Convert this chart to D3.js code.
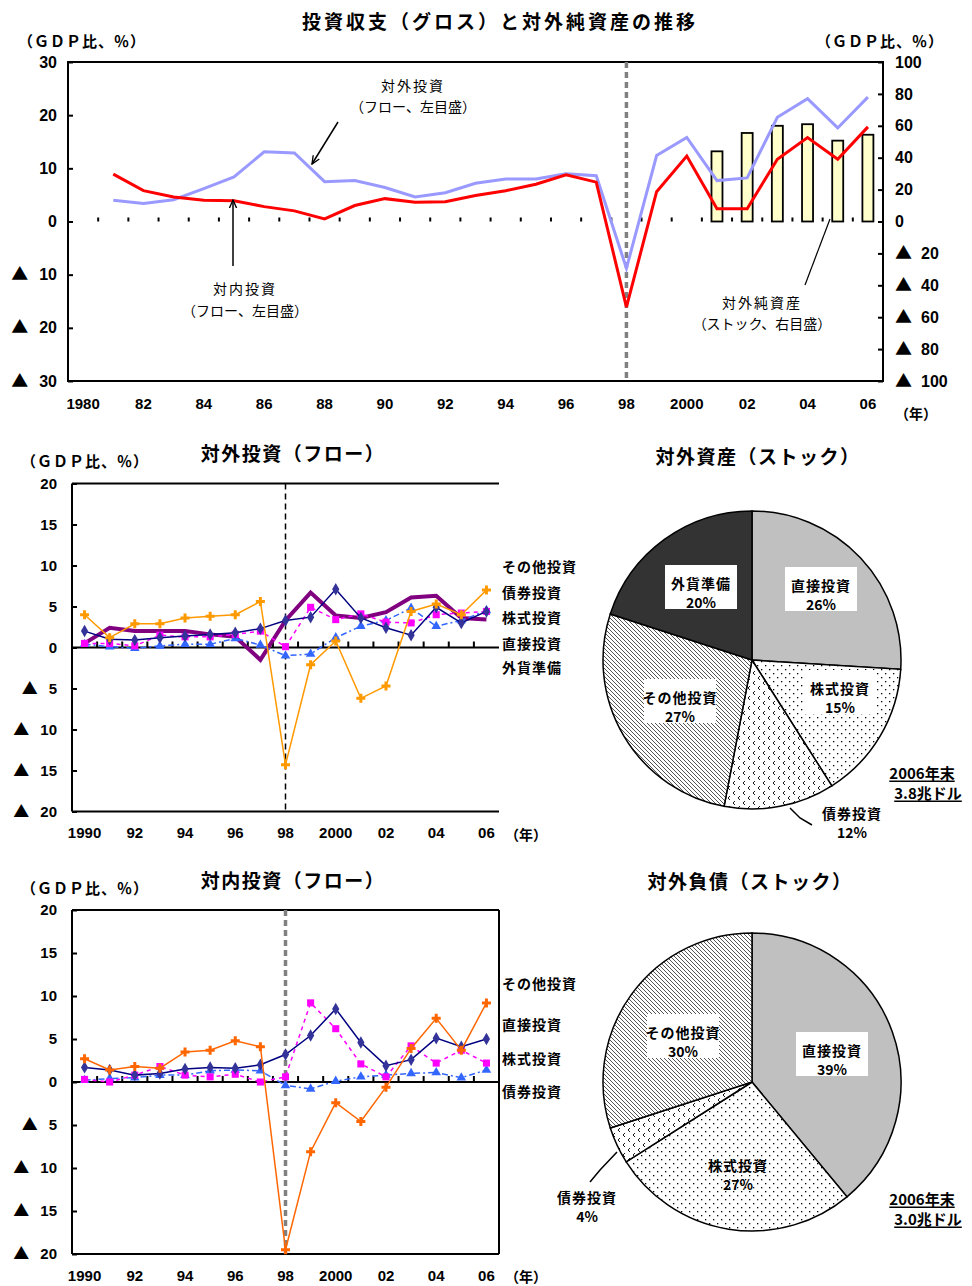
<!DOCTYPE html>
<html>
<head>
<meta charset="utf-8">
<title>投資収支（グロス）と対外純資産の推移</title>
<script src="https://cdn.jsdelivr.net/npm/d3@7"></script>
<style>
  body { margin: 0; background: #fff; }
  svg { display: block; font-family: "Noto Sans CJK JP", sans-serif; }
  .num { font-family: "Liberation Sans", Arial, "Noto Sans CJK JP", sans-serif; font-weight: bold; }
</style>
</head>
<body>
<svg id="chart" width="972" height="1286"></svg>
<script>
// ---------- data ----------
// top chart, GDP ratio (%)
const yearsLong = [1980, 1981, 1982, 1983, 1984, 1985, 1986, 1987, 1988, 1989, 1990, 1991, 1992, 1993,
  1994, 1995, 1996, 1997, 1998, 1999, 2000, 2001, 2002, 2003, 2004, 2005, 2006];
const outwardGross = [null, 4.0, 3.4, 4.1, 6.2, 8.4, 13.1, 12.9, 7.5, 7.7, 6.4, 4.6, 5.4, 7.2,
  8.0, 8.0, 9.0, 8.6, -8.8, 12.4, 15.8, 7.7, 8.2, 19.6, 23.1, 17.6, 23.4];
const inwardGross = [null, 8.9, 5.8, 4.6, 4.0, 3.9, 2.8, 2.0, 0.5, 3.0, 4.3, 3.6, 3.7, 4.9,
  5.8, 7.0, 8.8, 7.4, -16.1, 5.6, 12.3, 2.4, 2.4, 11.7, 15.8, 11.7, 17.8];
const netAssetYears = [2001, 2002, 2003, 2004, 2005, 2006];
const netAssets = [44, 55.5, 60, 61, 50.7, 54.4];

// flow charts 1990-2006
const yearsShort = [1990, 1991, 1992, 1993, 1994, 1995, 1996, 1997, 1998, 1999, 2000, 2001, 2002, 2003, 2004, 2005, 2006];
const outOther = [4.0, 1.2, 2.9, 2.9, 3.6, 3.8, 4.0, 5.6, -14.3, -2.1, 0.8, -6.2, -4.7, 4.4, 5.3, 4.0, 7.0];
const outBond = [0.4, 0.1, -0.1, 0.2, 0.4, 0.4, 1.1, 0.3, -1.0, -0.8, 1.2, 2.6, 3.3, 4.8, 2.6, 3.3, 4.5];
const outEquity = [0.5, 0.5, 0.2, 1.5, 1.3, 1.3, 1.6, 2.0, 0.1, 4.9, 3.4, 4.1, 3.1, 3.0, 4.0, 4.2, 4.4];
const outDirect = [2.0, 1.0, 0.9, 1.2, 1.4, 1.6, 1.8, 2.3, 3.3, 3.7, 7.1, 3.6, 2.4, 1.5, 4.9, 3.0, 4.4];
const outReserves = [0.5, 2.4, 2.0, 2.0, 2.0, 1.6, 1.3, -1.5, 3.3, 6.7, 3.9, 3.6, 4.3, 6.1, 6.3, 3.6, 3.4];

const inOther = [2.7, 1.4, 1.8, 1.6, 3.5, 3.7, 4.8, 4.1, -19.5, -8.1, -2.4, -4.6, -0.6, 3.9, 7.4, 3.7, 9.2];
const inDirect = [1.7, 1.4, 0.8, 1.0, 1.5, 1.7, 1.6, 2.0, 3.2, 5.4, 8.5, 4.6, 1.9, 2.6, 5.1, 4.1, 5.0];
const inEquity = [0.3, 0.0, 0.8, 1.8, 0.8, 0.6, 0.9, 0.0, 0.6, 9.2, 6.2, 2.1, 0.6, 4.2, 2.2, 3.7, 2.2];
const inBond = [0.2, 0.4, 0.5, 0.8, 0.8, 1.3, 1.4, 1.3, -0.4, -0.8, 0.1, 0.6, 0.8, 1.0, 1.1, 0.5, 1.4];

// stock pies (shares, %)
const assetNames = ["直接投資", "株式投資", "債券投資", "その他投資", "外貨準備"];
const assetShares = [26, 15, 12, 27, 20];
const liabNames = ["直接投資", "株式投資", "債券投資", "その他投資"];
const liabShares = [39, 27, 4, 30];

// ---------- helpers ----------
const svg = d3.select("#chart");
const defs = svg.append("defs");

const fmtYearTop = y => (y === 1980 || y === 2000) ? String(y) : String(y).slice(2);
const fmtYear = y => (y === 1990 || y === 2000) ? String(y) : String(y).slice(2);

// style axis numbers; negatives are written as "▲ n"
function styleTicks(size, gap) {
  return a => a.selectAll(".tick text").each(function (d) {
    const t = d3.select(this).attr("class", "num").attr("font-size", size).attr("fill", "#000").text(null);
    if (d < 0) {
      t.append("tspan").attr("font-family", "Noto Sans CJK JP").attr("font-size", size + 1).text("▲");
      t.append("tspan").attr("dx", gap).text(-d);
    } else {
      t.text(d);
    }
  });
}

function jpText(g, x, y, str, size, opts = {}) {
  return g.append("text")
    .attr("x", x).attr("y", y)
    .attr("text-anchor", opts.anchor || "middle")
    .attr("dominant-baseline", "central")
    .attr("font-size", size)
    .attr("font-weight", opts.weight || "bold")
    .attr("letter-spacing", opts.ls || 0)
    .text(str);
}

// arrow head
defs.append("marker").attr("id", "arrow")
  .attr("viewBox", "0 0 10 10").attr("refX", 9).attr("refY", 5)
  .attr("markerWidth", 9).attr("markerHeight", 9).attr("orient", "auto")
  .attr("markerUnits", "userSpaceOnUse")
  .append("path").attr("d", "M0,1 L9,5 L0,9").attr("fill", "none").attr("stroke", "#000").attr("stroke-width", 1.5);

// pie fill patterns
const hatch = defs.append("pattern").attr("id", "hatch").attr("patternUnits", "userSpaceOnUse")
  .attr("width", 4).attr("height", 4);
hatch.append("rect").attr("width", 4).attr("height", 4).attr("fill", "#fff");
hatch.append("path").attr("d", "M-1,-1 L5,5 M3,-1 L5,1 M-1,3 L1,5").attr("stroke", "#555").attr("stroke-width", 1);

const dots = defs.append("pattern").attr("id", "dots").attr("patternUnits", "userSpaceOnUse")
  .attr("width", 8).attr("height", 8);
dots.append("rect").attr("width", 8).attr("height", 8).attr("fill", "#fff");
dots.append("rect").attr("x", 1).attr("y", 1).attr("width", 1.3).attr("height", 1.3).attr("fill", "#000");
dots.append("rect").attr("x", 5).attr("y", 5).attr("width", 1.3).attr("height", 1.3).attr("fill", "#000");

const chev = defs.append("pattern").attr("id", "chev").attr("patternUnits", "userSpaceOnUse")
  .attr("width", 10).attr("height", 10);
chev.append("rect").attr("width", 10).attr("height", 10).attr("fill", "#fff");
chev.append("path").attr("d", "M3,1 L1,3 L3,5 M8,6 L6,8 L8,10").attr("stroke", "#000").attr("stroke-width", 0.9).attr("fill", "none");

// ================= TOP CHART =================
const gTop = svg.append("g");
const x1 = d3.scaleBand().domain(yearsLong).range([68, 883]);
const y1 = d3.scaleLinear().domain([-30, 30]).range([381, 62]);
const y1r = d3.scaleLinear().domain([-100, 100]).range([381, 62]);
const cx1 = y => x1(y) + x1.bandwidth() / 2;

gTop.append("rect").attr("x", 68).attr("y", 62).attr("width", 815).attr("height", 319)
  .attr("fill", "none").attr("stroke", "#000").attr("stroke-width", 2);

gTop.append("g").attr("transform", "translate(68,0)")
  .call(d3.axisLeft(y1).tickValues([-30, -20, -10, 0, 10, 20, 30]).tickSize(-5).tickPadding(11))
  .call(g => g.select(".domain").remove())
  .call(g => g.selectAll("line").attr("stroke-width", 2))
  .call(styleTicks(16, 11));

gTop.append("g").attr("transform", "translate(883,0)")
  .call(d3.axisRight(y1r).tickValues([-100, -80, -60, -40, -20, 0, 20, 40, 60, 80, 100]).tickSize(-5).tickPadding(12))
  .call(g => g.select(".domain").remove())
  .call(g => g.selectAll("line").attr("stroke-width", 2))
  .call(styleTicks(16, 9));

gTop.append("g").attr("transform", "translate(0,381)")
  .call(d3.axisBottom(x1).tickValues(yearsLong.filter(y => y % 2 === 0)).tickSize(0).tickPadding(17).tickFormat(fmtYearTop))
  .call(g => g.select(".domain").remove())
  .call(g => g.selectAll("text").attr("class", "num").attr("font-size", 15).attr("fill", "#000"));

// category boundary ticks on zero level
gTop.append("g").selectAll("line").data(yearsLong.slice(1)).join("line")
  .attr("x1", d => x1(d)).attr("x2", d => x1(d))
  .attr("y1", y1(0) - 4).attr("y2", y1(0))
  .attr("stroke", "#000").attr("stroke-width", 2);

// net external assets bars (right axis)
gTop.append("g").selectAll("rect").data(netAssets).join("rect")
  .attr("x", (d, i) => cx1(netAssetYears[i]) - 5.5)
  .attr("y", d => y1r(d))
  .attr("width", 11)
  .attr("height", d => y1r(0) - y1r(d))
  .attr("fill", "#ffffcc").attr("stroke", "#000").attr("stroke-width", 1.8);

// 1998 marker
gTop.append("line").attr("x1", cx1(1998)).attr("x2", cx1(1998)).attr("y1", 62).attr("y2", 381)
  .attr("stroke", "#808080").attr("stroke-width", 3.5).attr("stroke-dasharray", "6,4");

const lineTop = d3.line().defined(d => d != null).x((d, i) => cx1(yearsLong[i])).y(d => y1(d));
gTop.append("path").datum(outwardGross).attr("d", lineTop)
  .attr("fill", "none").attr("stroke", "#9999ff").attr("stroke-width", 3);
gTop.append("path").datum(inwardGross).attr("d", lineTop)
  .attr("fill", "none").attr("stroke", "#ff0000").attr("stroke-width", 3);

// annotations
jpText(gTop, 413, 85, "対外投資", 14, { weight: "normal", ls: 2 });
jpText(gTop, 413, 106, "（フロー、左目盛）", 14, { weight: "normal" });
gTop.append("line").attr("x1", 338).attr("y1", 122).attr("x2", 312).attr("y2", 164)
  .attr("stroke", "#000").attr("stroke-width", 1.5).attr("marker-end", "url(#arrow)");
jpText(gTop, 245, 288, "対内投資", 14, { weight: "normal", ls: 2 });
jpText(gTop, 245, 310, "（フロー、左目盛）", 14, { weight: "normal" });
gTop.append("line").attr("x1", 233).attr("y1", 266).attr("x2", 233).attr("y2", 200)
  .attr("stroke", "#000").attr("stroke-width", 1.5).attr("marker-end", "url(#arrow)");
jpText(gTop, 762, 302, "対外純資産", 14, { weight: "normal", ls: 2 });
jpText(gTop, 762, 323, "（ストック、右目盛）", 14, { weight: "normal" });
gTop.append("line").attr("x1", 805).attr("y1", 285).attr("x2", 830).attr("y2", 219)
  .attr("stroke", "#000").attr("stroke-width", 1.2);

jpText(gTop, 500, 20, "投資収支（グロス）と対外純資産の推移", 19, { ls: 3 });
jpText(gTop, 82, 40, "（ＧＤＰ比、％）", 15, { ls: 1 });
jpText(gTop, 880, 40, "（ＧＤＰ比、％）", 15, { ls: 1 });
jpText(gTop, 916, 413, "（年）", 14);

// ================= FLOW CHARTS =================
function flowChart(cfg) {
  const g = svg.append("g");
  const x = d3.scaleBand().domain(yearsShort).range([72, 499]);
  const y = d3.scaleLinear().domain([-20, 20]).range([cfg.bottom, cfg.top]);
  const cx = yr => x(yr) + x.bandwidth() / 2;

  // frame
  const fr = [[72, cfg.top, 499, cfg.top], [72, cfg.bottom, 499, cfg.bottom], [72, cfg.top, 72, cfg.bottom]];
  if (cfg.rightBorder) fr.push([499, cfg.top, 499, cfg.bottom]);
  g.append("g").selectAll("line").data(fr).join("line")
    .attr("x1", d => d[0]).attr("y1", d => d[1]).attr("x2", d => d[2]).attr("y2", d => d[3])
    .attr("stroke", "#000").attr("stroke-width", 2);

  g.append("g").attr("transform", "translate(72,0)")
    .call(d3.axisLeft(y).tickValues([-20, -15, -10, -5, 0, 5, 10, 15, 20]).tickSize(-5).tickPadding(15))
    .call(a => a.select(".domain").remove())
    .call(a => a.selectAll("line").attr("stroke-width", 2))
    .call(styleTicks(15, 11));

  g.append("g").attr("transform", `translate(0,${cfg.bottom})`)
    .call(d3.axisBottom(x).tickValues(yearsShort.filter(yr => yr % 2 === 0)).tickSize(0).tickPadding(16).tickFormat(fmtYear))
    .call(a => a.select(".domain").remove())
    .call(a => a.selectAll("text").attr("class", "num").attr("font-size", 15).attr("fill", "#000"));

  // zero line and category ticks
  g.append("line").attr("x1", 72).attr("x2", 499).attr("y1", y(0)).attr("y2", y(0))
    .attr("stroke", "#000").attr("stroke-width", 2);
  g.append("g").selectAll("line").data(yearsShort.slice(1)).join("line")
    .attr("x1", d => x(d)).attr("x2", d => x(d))
    .attr("y1", y(0) - 6).attr("y2", y(0))
    .attr("stroke", "#000").attr("stroke-width", 2);

  g.append("line").attr("x1", cx(1998)).attr("x2", cx(1998)).attr("y1", cfg.top).attr("y2", cfg.bottom)
    .attr("stroke", cfg.dashColor).attr("stroke-width", cfg.dashWidth).attr("stroke-dasharray", "6,4");

  const line = d3.line().x((d, i) => cx(yearsShort[i])).y(d => y(d));
  cfg.series.forEach(s => {
    g.append("path").datum(s.values).attr("d", line)
      .attr("fill", "none").attr("stroke", s.color).attr("stroke-width", s.width)
      .attr("stroke-dasharray", s.dash || null);
    if (s.symbol) {
      g.append("g").selectAll("path").data(s.values).join("path")
        .attr("transform", (d, i) => `translate(${cx(yearsShort[i])},${y(d)})`)
        .attr("d", d3.symbol().type(s.symbol).size(s.size))
        .attr("fill", s.markColor || s.color);
    }
  });

  cfg.labels.forEach((t, i) => jpText(g, 502, cfg.labelY[i], t, 14, { anchor: "start", ls: 1 }));

  jpText(g, 293, cfg.top - 31, cfg.title, 19, { ls: 1.5 });
  jpText(g, 85, cfg.top - 23, "（ＧＤＰ比、％）", 15, { ls: 1 });
  jpText(g, 526, cfg.bottom + 22, "（年）", 14);
}

flowChart({
  top: 483.5, bottom: 811.5, title: "対外投資（フロー）",
  dashColor: "#000", dashWidth: 1.5, rightBorder: false,
  series: [
    { values: outReserves, color: "#800080", width: 4 },
    { values: outBond, color: "#3366ff", width: 1.5, dash: "6,3,2,3", symbol: d3.symbolTriangle, size: 40 },
    { values: outEquity, color: "#ff00ff", width: 1.5, dash: "4,4", symbol: d3.symbolSquare, size: 50 },
    { values: outDirect, color: "#000080", width: 1.5, symbol: d3.symbolDiamond, size: 45, markColor: "#333399" },
    { values: outOther, color: "#ff9900", width: 1.5, symbol: d3.symbolCross, size: 45 }
  ],
  labels: ["その他投資", "債券投資", "株式投資", "直接投資", "外貨準備"],
  labelY: [566, 592, 617, 643, 667]
});

flowChart({
  top: 910, bottom: 1254, title: "対内投資（フロー）",
  dashColor: "#808080", dashWidth: 3.5, rightBorder: true,
  series: [
    { values: inBond, color: "#3366ff", width: 1.5, dash: "6,3,2,3", symbol: d3.symbolTriangle, size: 40 },
    { values: inEquity, color: "#ff00ff", width: 1.5, dash: "4,4", symbol: d3.symbolSquare, size: 50 },
    { values: inDirect, color: "#000080", width: 1.5, symbol: d3.symbolDiamond, size: 45, markColor: "#333399" },
    { values: inOther, color: "#ff6600", width: 1.5, symbol: d3.symbolCross, size: 45 }
  ],
  labels: ["その他投資", "直接投資", "株式投資", "債券投資"],
  labelY: [983, 1024, 1058, 1091]
});

// ================= PIES =================
const fills = {
  "直接投資": "#c0c0c0", "株式投資": "url(#dots)", "債券投資": "url(#chev)",
  "その他投資": "url(#hatch)", "外貨準備": "#333333"
};

function pieChart(cfg) {
  const g = svg.append("g").attr("transform", `translate(${cfg.cx},${cfg.cy})`);
  const arcs = d3.pie().sort(null).value(d => d)(cfg.values);
  const arc = d3.arc().innerRadius(0).outerRadius(cfg.r);
  g.selectAll("path").data(arcs).join("path")
    .attr("d", arc)
    .attr("fill", (d, i) => fills[cfg.names[i]])
    .attr("stroke", "#000").attr("stroke-width", 1.5);

  cfg.names.forEach((n, i) => {
    const p = cfg.labelPos[i];
    const lg = svg.append("g");
    if (p.box) {
      lg.append("rect").attr("x", p.x - 36).attr("y", p.y - 18).attr("width", 72).attr("height", 44).attr("fill", "#fff");
    }
    jpText(lg, p.x, p.y, n, 14, { ls: 1 });
    jpText(lg, p.x, p.y + 19, cfg.values[i] + "%", 14);
  });

  jpText(svg, cfg.cx + cfg.titleDx, cfg.titleY, cfg.title, 19, { ls: 1.5 });
  jpText(svg, 922, cfg.totalY, "2006年末", 15).style("text-decoration", "underline");
  jpText(svg, 928, cfg.totalY + 20, cfg.total, 15).style("text-decoration", "underline");
}

pieChart({
  cx: 752, cy: 660, r: 149, values: assetShares, names: assetNames,
  title: "対外資産（ストック）", titleDx: 6, titleY: 455, totalY: 772, total: "3.8兆ドル",
  labelPos: [
    { x: 821, y: 585, box: true }, { x: 840, y: 688, box: true }, { x: 852, y: 813, box: false },
    { x: 680, y: 697, box: true }, { x: 701, y: 583, box: true }
  ]
});
svg.append("path").attr("d", "M790,808 L800,818 L812,825").attr("fill", "none").attr("stroke", "#000").attr("stroke-width", 1.5);

pieChart({
  cx: 752, cy: 1082, r: 149, values: liabShares, names: liabNames,
  title: "対外負債（ストック）", titleDx: -2, titleY: 880, totalY: 1198, total: "3.0兆ドル",
  labelPos: [
    { x: 832, y: 1050, box: true }, { x: 738, y: 1165, box: false }, { x: 587, y: 1197, box: false },
    { x: 683, y: 1032, box: true }
  ]
});
svg.append("path").attr("d", "M617,1152 L600,1170 L590,1182").attr("fill", "none").attr("stroke", "#000").attr("stroke-width", 1.5);
</script>
</body>
</html>
